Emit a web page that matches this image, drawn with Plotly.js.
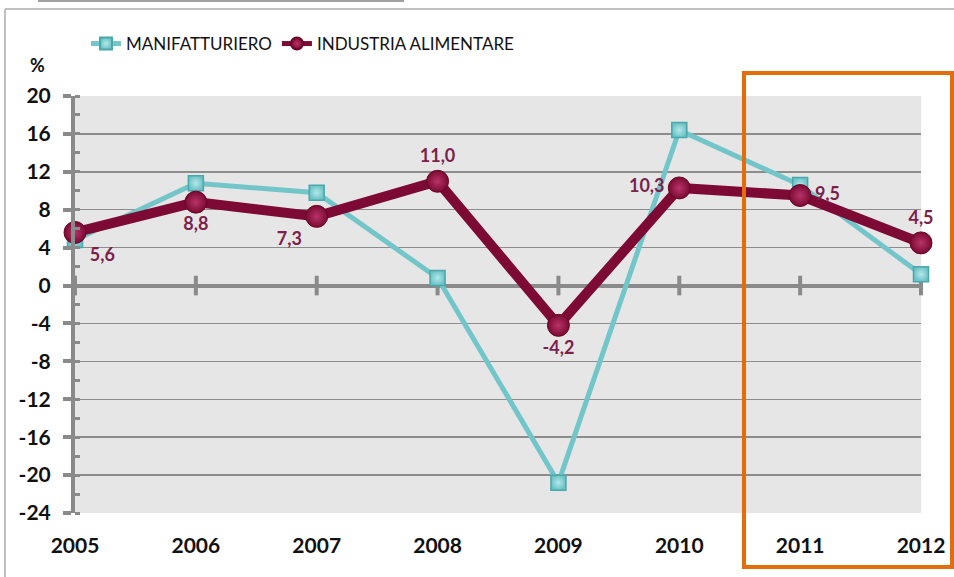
<!DOCTYPE html>
<html>
<head>
<meta charset="utf-8">
<script src="https://cdn.plot.ly/plotly-3.0.1.min.js"></script>
<style>
html,body{margin:0;padding:0;background:#fff;}
#chart{width:954px;height:577px;}
</style>
</head>
<body>
<div id="chart"></div>
<script>
// ---- data ----
const years = ['2005','2006','2007','2008','2009','2010','2011','2012'];
const manifatturiero = [4.8, 10.8, 9.8, 0.8, -20.8, 16.4, 10.6, 1.2];
const industriaAlimentare = [5.6, 8.8, 7.3, 11.0, -4.2, 10.3, 9.5, 4.5];
const seriesNames = ['MANIFATTURIERO', 'INDUSTRIA ALIMENTARE'];
const yTickVals = [20, 16, 12, 8, 4, 0, -4, -8, -12, -16, -20, -24];
const yTickText = ['20', '16', '12', '8', '4', '0', '-4', '-8', '-12', '-16', '-20', '-24'];
const yUnit = '%';

// ---- styles ----
const FONT = 'Lato, "Open Sans", sans-serif';
const labelPositions = ['bottom right', 'bottom center', 'bottom left', 'top center',
  'bottom center', 'middle left', 'middle right', 'top center'];
const alimLabels = industriaAlimentare.map(v => v.toFixed(1).replace('.', ','));

const traces = [
  {
    x: years, y: years.map(() => 0), type: 'scatter', mode: 'markers',
    marker: {symbol: 'line-ns-open', size: 14, color: '#8a8a8a', line: {width: 4, color: '#8a8a8a'}},
    hoverinfo: 'skip', showlegend: false, cliponaxis: false
  },
  {
    x: years, y: manifatturiero, name: seriesNames[0], type: 'scatter', mode: 'lines+markers',
    line: {color: '#72c6c9', width: 5},
    marker: {symbol: 'square', size: 15, color: '#6cc2c5', line: {color: '#4aa7ab', width: 1.5},
             gradient: {type: 'radial', color: '#b4e8ea'}},
    cliponaxis: false
  },
  {
    x: years, y: industriaAlimentare, name: seriesNames[1], type: 'scatter', mode: 'lines+markers+text',
    line: {color: '#7c0a34', width: 10},
    marker: {symbol: 'circle', size: 22, color: '#7a0a32', line: {color: '#6a0628', width: 1},
             gradient: {type: 'radial', color: '#b8336a'}},
    text: alimLabels, textposition: labelPositions,
    textfont: {family: FONT, size: 18, color: '#7b1f4b', weight: 'bold'},
    cliponaxis: false
  }
];

const L = 75, R = 921, T = 96, B = 513;
const px2x = p => (p - L) / (R - L);
const px2y = p => (B - p) / (B - T);

const layout = {
  width: 954, height: 577,
  margin: {l: L, r: 954 - R, t: T, b: 577 - B},
  paper_bgcolor: '#ffffff',
  plot_bgcolor: '#e6e6e6',
  font: {family: FONT, size: 18, color: '#111'},
  showlegend: true,
  legend: {
    orientation: 'h', x: px2x(86), y: px2y(44), xanchor: 'left', yanchor: 'middle',
    font: {family: FONT, size: 17, color: '#111'},
    bgcolor: 'rgba(0,0,0,0)', itemwidth: 30, traceorder: 'normal', itemsizing: 'constant'
  },
  xaxis: {
    type: 'category', range: [0, 7], showgrid: false, zeroline: false, showline: false,
    ticks: '', tickfont: {family: FONT, size: 21, color: '#111', weight: 'bold'},
    ticklabelstandoff: 18, fixedrange: true
  },
  yaxis: {
    range: [-24, 20], tickvals: yTickVals, ticktext: yTickText,
    showgrid: true, gridcolor: '#8c8c8c', gridwidth: 1.5,
    zeroline: true, zerolinecolor: '#8a8a8a', zerolinewidth: 4,
    showline: true, linecolor: '#8a8a8a', linewidth: 4,
    ticks: 'outside', ticklen: 8, tickwidth: 4, tickcolor: '#8a8a8a',
    minor: {dtick: 2, ticks: 'inside', ticklen: 5, tickwidth: 3, tickcolor: '#8a8a8a', showgrid: false},
    tickfont: {family: FONT, size: 21, color: '#111', weight: 'bold'},
    ticklabelstandoff: 8, fixedrange: true
  },
  annotations: [
    {text: yUnit, xref: 'paper', yref: 'paper', x: px2x(37), y: px2y(65), xanchor: 'center', yanchor: 'middle',
     showarrow: false, font: {family: FONT, size: 18, color: '#111', weight: 'bold'}}
  ],
  shapes: [
    {type: 'rect', xref: 'paper', yref: 'paper', x0: px2x(744), x1: px2x(952), y0: px2y(567), y1: px2y(73),
     line: {color: '#e46c0a', width: 4}, layer: 'above'},
    {type: 'line', xref: 'paper', yref: 'paper', x0: px2x(5), x1: px2x(5), y0: px2y(577), y1: px2y(9),
     line: {color: '#c0c0c0', width: 2}},
    {type: 'line', xref: 'paper', yref: 'paper', x0: px2x(5), x1: px2x(954), y0: px2y(9), y1: px2y(9),
     line: {color: '#c0c0c0', width: 2}},
    {type: 'line', xref: 'paper', yref: 'paper', x0: px2x(38), x1: px2x(404), y0: px2y(1), y1: px2y(1),
     line: {color: '#a0a0a0', width: 2}}
  ]
};

Plotly.newPlot('chart', traces, layout, {displayModeBar: false, staticPlot: true});
</script>
</body>
</html>
